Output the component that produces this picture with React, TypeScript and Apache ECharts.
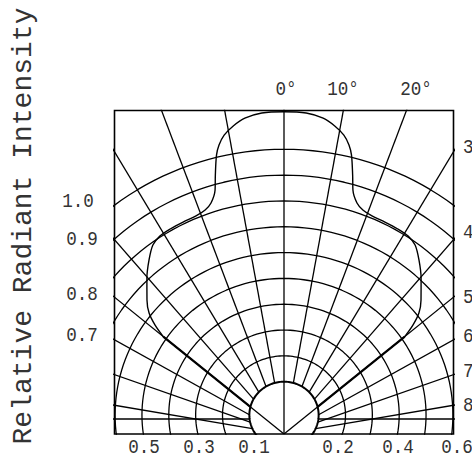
import React, { useEffect, useRef } from "react";
import * as echarts from "echarts";

// ---- data ----
const TITLE = "Relative Radiant Intensity";
const INTENSITY_LEVELS = [0.1, 0.2, 0.3, 0.4, 0.5, 0.6, 0.7, 0.8, 0.9, 1.0];
const ANGLE_LEVELS = [10, 20, 30, 40, 50, 60, 70, 80];
const PATTERN_ANGLE = [0, 3.8, 6.8, 9.0, 10.9, 12.2, 13.1, 14.3, 15.2, 16.9, 18.7, 21.2, 24.6, 28.1, 31.1, 33.7, 36.7, 40.2, 44.5, 47.0, 48.7, 50];
const PATTERN_INTENSITY = [1.248, 1.246, 1.232, 1.208, 1.179, 1.145, 1.109, 1.035, 0.979, 0.935, 0.916, 0.906, 0.903, 0.9, 0.895, 0.88, 0.841, 0.791, 0.728, 0.687, 0.639, 0.587];
const PATTERN_EDGE_ANGLE = 50;
const TOP_LABELS = ["0°", "10°", "20°"];
const RIGHT_LABELS = ["30°", "40°", "50°", "60°", "70°", "80°"];
const LEFT_LABELS = ["1.0", "0.9", "0.8", "0.7"];
const BOTTOM_LABELS = ["0.5", "0.3", "0.1", "0.2", "0.4", "0.6"];

// ---- layout ----
const W = 472;
const H = 462;
const GRID = { left: 114.5, top: 110.5, width: 339, height: 323.5 };
const PX_PER_UNIT = 258.2;
const STRETCH = 1.04;
const X_HALF = GRID.width / 2 / (PX_PER_UNIT * STRETCH);
const Y_TOP = GRID.height / PX_PER_UNIT;
const ARC_CENTER = 19 / PX_PER_UNIT;
const ARC_OFFSET = 0.029;
const HLINE_Y = 15 / PX_PER_UNIT;
const TOP_POS = [[286, 90], [343, 90], [416, 90]];
const RIGHT_POS = [[463, 148], [463, 233], [463, 298], [463, 337], [463, 372], [463, 406]];
const LEFT_POS = [[78, 202], [82, 240], [82, 295], [82, 335.5]];
const BOTTOM_POS = [[144, 448], [199, 448], [254, 448], [338, 448], [398, 448], [457, 448]];
const TITLE_POS = [23, 226];

const LINE = "#000";
const TEXT = "#333";
const FONT = '"Liberation Mono", "DejaVu Sans Mono", monospace';
const GRID_W = 1.3;

const rad = (d: number) => (d * Math.PI) / 180;
const polar = (deg: number, r: number) => [r * Math.sin(rad(deg)), r * Math.cos(rad(deg))];

const innerR = INTENSITY_LEVELS[0] + ARC_OFFSET;
// distance along a ray from the origin to the innermost arc
function rayToInner(deg: number) {
  const c = Math.cos(rad(deg));
  return ARC_CENTER * c + Math.sqrt(ARC_CENTER * ARC_CENTER * c * c - ARC_CENTER * ARC_CENTER + innerR * innerR);
}

function arcPoints(level: number) {
  const R = level + ARC_OFFSET;
  const pts: number[][] = [];
  for (let a = 0; a <= 360; a += 2) {
    pts.push([R * Math.cos(rad(a)), ARC_CENTER + R * Math.sin(rad(a))]);
  }
  return pts;
}

function lineSeries(data: number[][], width: number, smooth: number | boolean = false) {
  return {
    type: "line",
    data,
    showSymbol: false,
    symbol: "none",
    smooth,
    silent: true,
    clip: true,
    lineStyle: { color: LINE, width },
    z: 2,
  };
}

function buildOption() {
  const series: any[] = [];
  INTENSITY_LEVELS.forEach((lv, i) => series.push(lineSeries(arcPoints(lv), i === 0 ? 2 : GRID_W)));
  // radial lines
  series.push(lineSeries([polar(0, 0), polar(0, 3)], GRID_W));
  ANGLE_LEVELS.forEach((a) => {
    [-1, 1].forEach((s) => {
      const start = a === PATTERN_EDGE_ANGLE ? 0 : rayToInner(a);
      series.push(lineSeries([polar(s * a, start), polar(s * a, 3)], GRID_W));
    });
  });
  // horizontal diameter line
  const hx = Math.sqrt(innerR * innerR - (ARC_CENTER - HLINE_Y) ** 2);
  series.push(lineSeries([[-X_HALF * 1.1, HLINE_Y], [-hx, HLINE_Y]], GRID_W));
  series.push(lineSeries([[hx, HLINE_Y], [X_HALF * 1.1, HLINE_Y]], GRID_W));
  // pattern curve
  const curve: number[][] = [];
  for (let i = PATTERN_ANGLE.length - 1; i >= 1; i--) curve.push(polar(-PATTERN_ANGLE[i], PATTERN_INTENSITY[i]));
  for (let i = 0; i < PATTERN_ANGLE.length; i++) curve.push(polar(PATTERN_ANGLE[i], PATTERN_INTENSITY[i]));
  series.push(lineSeries(curve, 1.4, 0.3));
  const last = PATTERN_INTENSITY[PATTERN_INTENSITY.length - 1];
  [-1, 1].forEach((s) => {
    series.push(
      lineSeries([polar(s * PATTERN_EDGE_ANGLE, last), polar(s * PATTERN_EDGE_ANGLE, rayToInner(PATTERN_EDGE_ANGLE))], 2.2)
    );
  });

  const txt = (text: string, x: number, y: number, size: number, align: string, extra: any = {}) => ({
    type: "text",
    x,
    y,
    silent: true,
    ...extra,
    style: {
      text,
      fill: TEXT,
      fontSize: size,
      fontFamily: FONT,
      align,
      textAlign: align,
      verticalAlign: "middle",
      textVerticalAlign: "middle",
    },
  });

  const graphics: any[] = [];
  TOP_LABELS.forEach((t, i) => graphics.push(txt(t, TOP_POS[i][0], TOP_POS[i][1], 20, "center", { scaleX: 0.88 })));
  RIGHT_LABELS.forEach((t, i) => graphics.push(txt(t, RIGHT_POS[i][0], RIGHT_POS[i][1], 20, "left", { scaleX: 0.88 })));
  LEFT_LABELS.forEach((t, i) => graphics.push(txt(t, LEFT_POS[i][0], LEFT_POS[i][1], 20, "center", { scaleX: 0.88 })));
  BOTTOM_LABELS.forEach((t, i) => graphics.push(txt(t, BOTTOM_POS[i][0], BOTTOM_POS[i][1], 20, "center", { scaleX: 0.88 })));
  graphics.push(txt(TITLE, TITLE_POS[0], TITLE_POS[1], 28, "center", { rotation: Math.PI / 2 }));

  return {
    animation: false,
    backgroundColor: "#fff",
    grid: {
      left: GRID.left,
      top: GRID.top,
      width: GRID.width,
      height: GRID.height,
      show: true,
      borderColor: LINE,
      borderWidth: 1.6,
      backgroundColor: "transparent",
      z: 5,
    },
    xAxis: { type: "value", min: -X_HALF, max: X_HALF, show: false },
    yAxis: { type: "value", min: 0, max: Y_TOP, show: false },
    series,
    graphic: graphics,
  };
}

export default function App() {
  const ref = useRef<HTMLDivElement>(null);
  useEffect(() => {
    if (!ref.current) return;
    const chart = echarts.init(ref.current, undefined, { renderer: "svg" });
    chart.setOption(buildOption() as any);
    return () => chart.dispose();
  }, []);
  return <div ref={ref} style={{ position: "absolute", left: 0, top: 0, width: W, height: H }} />;
}
